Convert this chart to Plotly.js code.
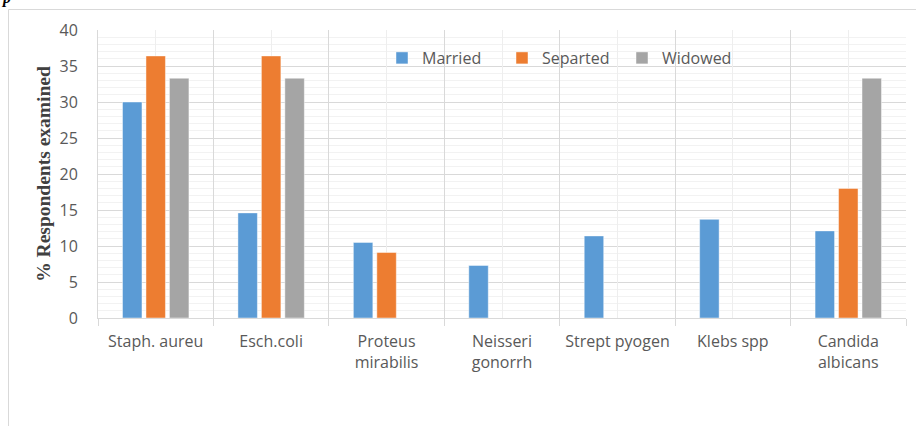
<!DOCTYPE html>
<html>
<head>
<meta charset="utf-8">
<script src="https://cdn.plot.ly/plotly-3.0.1.min.js"></script>
<style>
  html, body { margin: 0; padding: 0; background: #ffffff; }
  #chart { width: 916px; height: 426px; }
</style>
</head>
<body>
<div id="chart"></div>
<script>
// Organisms isolated, grouped by marital status of respondents
const categories = [
  'Staph. aureu',
  'Esch.coli',
  'Proteus<br>mirabilis',
  'Neisseri<br>gonorrh',
  'Strept pyogen',
  'Klebs spp',
  'Candida<br>albicans'
];
const seriesNames = ['Married', 'Separted', 'Widowed'];
const married  = [30.0, 14.6, 10.5, 7.3, 11.4, 13.7, 12.1];
const separted = [36.4, 36.4, 9.1, null, null, null, 18.0];
const widowed  = [33.3, 33.3, null, null, null, null, 33.3];
const yTicks = [0, 5, 10, 15, 20, 25, 30, 35, 40];

const colors = ['#5B9BD5', '#ED7D31', '#A5A5A5'];
const values = [married, separted, widowed];

const traces = values.map((v, i) => ({
  type: 'bar',
  name: seriesNames[i],
  x: categories,
  y: v,
  marker: { color: colors[i], line: { color: 'rgba(255,255,255,0.45)', width: 1 } },
  hoverinfo: 'x+y+name'
}));

const W = 916, H = 426;
const M = { l: 98, r: 10, t: 30, b: 108 };
const pw = W - M.l - M.r, ph = H - M.t - M.b;
// helpers converting page pixels to paper fractions for the outer frame
const px = x => (x - M.l) / pw;
const py = y => 1 - (y - M.t) / ph;

const tickFont = { family: 'Open Sans, sans-serif', size: 16, color: '#595959' };

const layout = {
  width: W,
  height: H,
  margin: M,
  paper_bgcolor: '#ffffff',
  plot_bgcolor: '#ffffff',
  barmode: 'group',
  bargap: 0.39,
  bargroupgap: 0.17,
  showlegend: true,
  legend: {
    orientation: 'h',
    x: px(382), y: py(41), xanchor: 'left', yanchor: 'top',
    bgcolor: 'rgba(0,0,0,0)',
    font: { family: 'Open Sans, sans-serif', size: 16, color: '#595959' },
    entrywidth: 75,
    itemwidth: 30,
    traceorder: 'normal'
  },
  xaxis: {
    type: 'category',
    categoryorder: 'array',
    categoryarray: categories,
    range: [-0.5, 6.5],
    tickson: 'boundaries',
    ticks: 'outside',
    ticklen: 7,
    tickcolor: '#d9d9d9',
    ticklabelstandoff: 9,
    showgrid: true,
    gridcolor: '#d9d9d9',
    gridwidth: 1,
    showline: true,
    linecolor: '#d9d9d9',
    linewidth: 1,
    tickfont: tickFont,
    fixedrange: true,
    automargin: false
  },
  // second category axis only used for the lighter lines at group centres
  xaxis2: {
    type: 'category',
    overlaying: 'x',
    categoryorder: 'array',
    categoryarray: categories,
    range: [-0.5, 6.5],
    showgrid: true,
    gridcolor: '#eeeeee',
    gridwidth: 1,
    showticklabels: false,
    ticks: '',
    showline: false,
    zeroline: false,
    layer: 'below traces',
    fixedrange: true
  },
  yaxis: {
    range: [0, 40],
    tickvals: yTicks,
    ticktext: yTicks.map(String),
    showgrid: true,
    gridcolor: '#d9d9d9',
    gridwidth: 1,
    minor: { dtick: 1, showgrid: true, gridcolor: '#f2f2f2', gridwidth: 1, ticks: '' },
    zeroline: false,
    showline: true,
    linecolor: '#d9d9d9',
    ticks: '',
    ticklabelstandoff: 16,
    tickfont: { family: 'Open Sans, sans-serif', size: 16, color: '#595959' },
    title: {
      text: '% Respondents examined',
      font: { family: 'Liberation Serif, Times New Roman, serif', size: 19.5, color: '#404040', weight: 'bold' },
      standoff: 3
    },
    fixedrange: true,
    automargin: false
  },
  shapes: [
    // outer chart frame (top and left edges)
    { type: 'line', xref: 'paper', yref: 'paper', x0: px(8.5), x1: px(920), y0: py(9.5), y1: py(9.5),
      line: { color: '#d9d9d9', width: 1 } },
    { type: 'line', xref: 'paper', yref: 'paper', x0: px(8.5), x1: px(8.5), y0: py(9.5), y1: py(430),
      line: { color: '#d9d9d9', width: 1 } }
  ],
  annotations: [
    { text: '<b><i>p</i></b>', xref: 'paper', yref: 'paper', x: px(-1), y: py(-13),
      xanchor: 'left', yanchor: 'top', showarrow: false,
      font: { family: 'Liberation Serif, serif', size: 16, color: '#000000' } }
  ]
};

// attach an empty trace to the centre-line axis so it renders
traces.push({ type: 'bar', x: categories, y: categories.map(() => null), xaxis: 'x2',
  showlegend: false, hoverinfo: 'skip' });

Plotly.newPlot('chart', traces, layout, { displayModeBar: false, staticPlot: true });
</script>
</body>
</html>
